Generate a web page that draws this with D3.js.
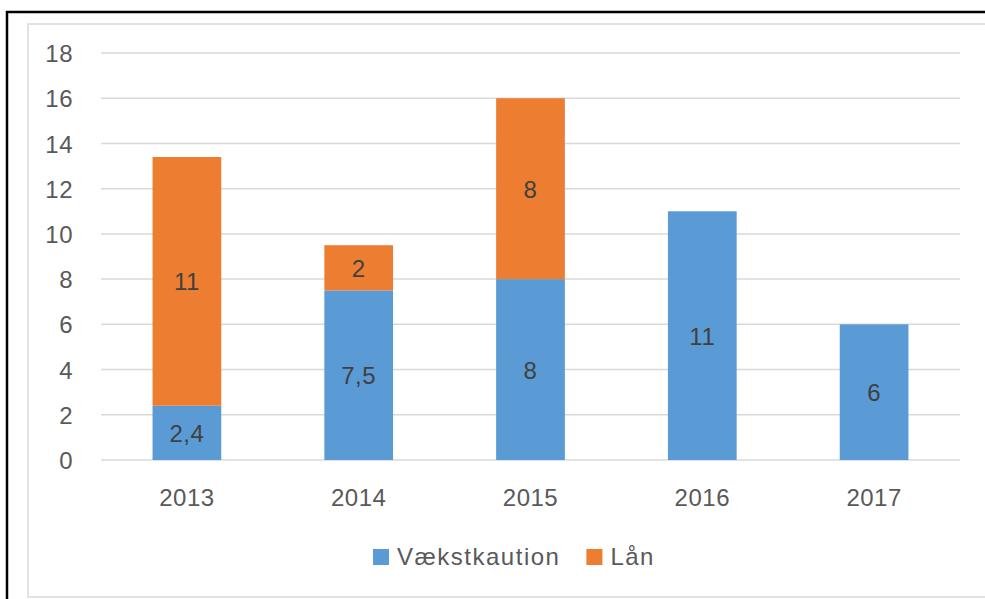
<!DOCTYPE html>
<html>
<head>
<meta charset="utf-8">
<script src="https://cdn.jsdelivr.net/npm/d3@7"></script>
<style>
  body { margin: 0; background: #fff; }
  svg text { font-family: "Liberation Sans", Arial, sans-serif; }
</style>
</head>
<body>
<div id="chart"></div>
<script>
// data
const years = ["2013", "2014", "2015", "2016", "2017"];
const vaekstkaution = [2.4, 7.5, 8, 11, 6];
const laan = [11, 2, 8, 0, 0];
const yTicks = [0, 2, 4, 6, 8, 10, 12, 14, 16, 18];
const seriesNames = ["Vækstkaution", "Lån"];
const seriesColors = ["#5b9bd5", "#ed7d31"];

const W = 985, H = 599;
const plot = { left: 101, right: 960, top: 53, bottom: 460 };

const svg = d3.select("#chart").append("svg")
    .attr("width", W)
    .attr("height", H);

// frame lines
svg.append("rect")
    .attr("x", 28).attr("y", 24)
    .attr("width", W).attr("height", 573)
    .attr("fill", "none")
    .attr("stroke", "#d9d9d9")
    .attr("stroke-width", 1.5);

svg.append("path")
    .attr("d", `M7,${H} V12 H${W}`)
    .attr("fill", "none")
    .attr("stroke", "#000")
    .attr("stroke-width", 2.5);

const x = d3.scaleBand()
    .domain(years)
    .range([plot.left, plot.right])
    .paddingInner(0.6)
    .paddingOuter(0.3);

const y = d3.scaleLinear()
    .domain([0, 18])
    .range([plot.bottom, plot.top]);

// gridlines
svg.append("g")
    .selectAll("line")
    .data(yTicks)
    .enter()
    .append("line")
    .attr("x1", plot.left)
    .attr("x2", plot.right)
    .attr("y1", d => y(d))
    .attr("y2", d => y(d))
    .attr("stroke", "#d9d9d9")
    .attr("stroke-width", 1.5);

// y axis labels
const yAxis = svg.append("g")
    .attr("transform", `translate(${plot.left}, 0)`)
    .call(d3.axisLeft(y).tickValues(yTicks).tickSize(0).tickPadding(28));
yAxis.select(".domain").remove();
yAxis.selectAll("text")
    .attr("fill", "#595959")
    .style("font-size", "24px")
    .style("letter-spacing", "0.5px")
    .attr("dy", "0.36em");

// x axis labels
const xAxis = svg.append("g")
    .attr("transform", `translate(0, ${plot.bottom})`)
    .call(d3.axisBottom(x).tickSize(0).tickPadding(29));
xAxis.select(".domain").remove();
xAxis.selectAll("text")
    .attr("fill", "#595959")
    .style("font-size", "24px")
    .style("letter-spacing", "0.5px");

// stacked data
const stackData = years.map((yr, i) => ({ year: yr, v: vaekstkaution[i], l: laan[i] }));
const stack = d3.stack().keys(["v", "l"])(stackData);

const layers = svg.selectAll(".layer")
    .data(stack)
    .enter()
    .append("g")
    .attr("class", "layer")
    .attr("fill", (d, i) => seriesColors[i]);

layers.selectAll("rect")
    .data(d => d.filter(s => s[1] > s[0]))
    .enter()
    .append("rect")
    .attr("x", d => x(d.data.year))
    .attr("y", d => y(d[1]))
    .attr("width", x.bandwidth())
    .attr("height", d => y(d[0]) - y(d[1]));

// value labels
const fmt = v => String(v).replace(".", ",");
layers.selectAll("text")
    .data(d => d.filter(s => s[1] > s[0]))
    .enter()
    .append("text")
    .attr("x", d => x(d.data.year) + x.bandwidth() / 2)
    .attr("y", d => (y(d[0]) + y(d[1])) / 2)
    .attr("dy", "0.38em")
    .attr("text-anchor", "middle")
    .attr("fill", "#404040")
    .style("font-size", "24px")
    .style("letter-spacing", "0.5px")
    .text(d => fmt(d[1] - d[0]));

// legend
const legend = svg.append("g");
let lx = 373;
seriesNames.forEach((name, i) => {
  legend.append("rect")
      .attr("x", lx)
      .attr("y", 549)
      .attr("width", 16)
      .attr("height", 16)
      .attr("fill", seriesColors[i]);
  const t = legend.append("text")
      .attr("x", lx + 24)
      .attr("y", 565)
      .attr("fill", "#595959")
      .style("font-size", "24px")
      .style("letter-spacing", "1.5px")
      .text(name);
  lx = lx + 24 + t.node().getComputedTextLength() + 26;
});
</script>
</body>
</html>
